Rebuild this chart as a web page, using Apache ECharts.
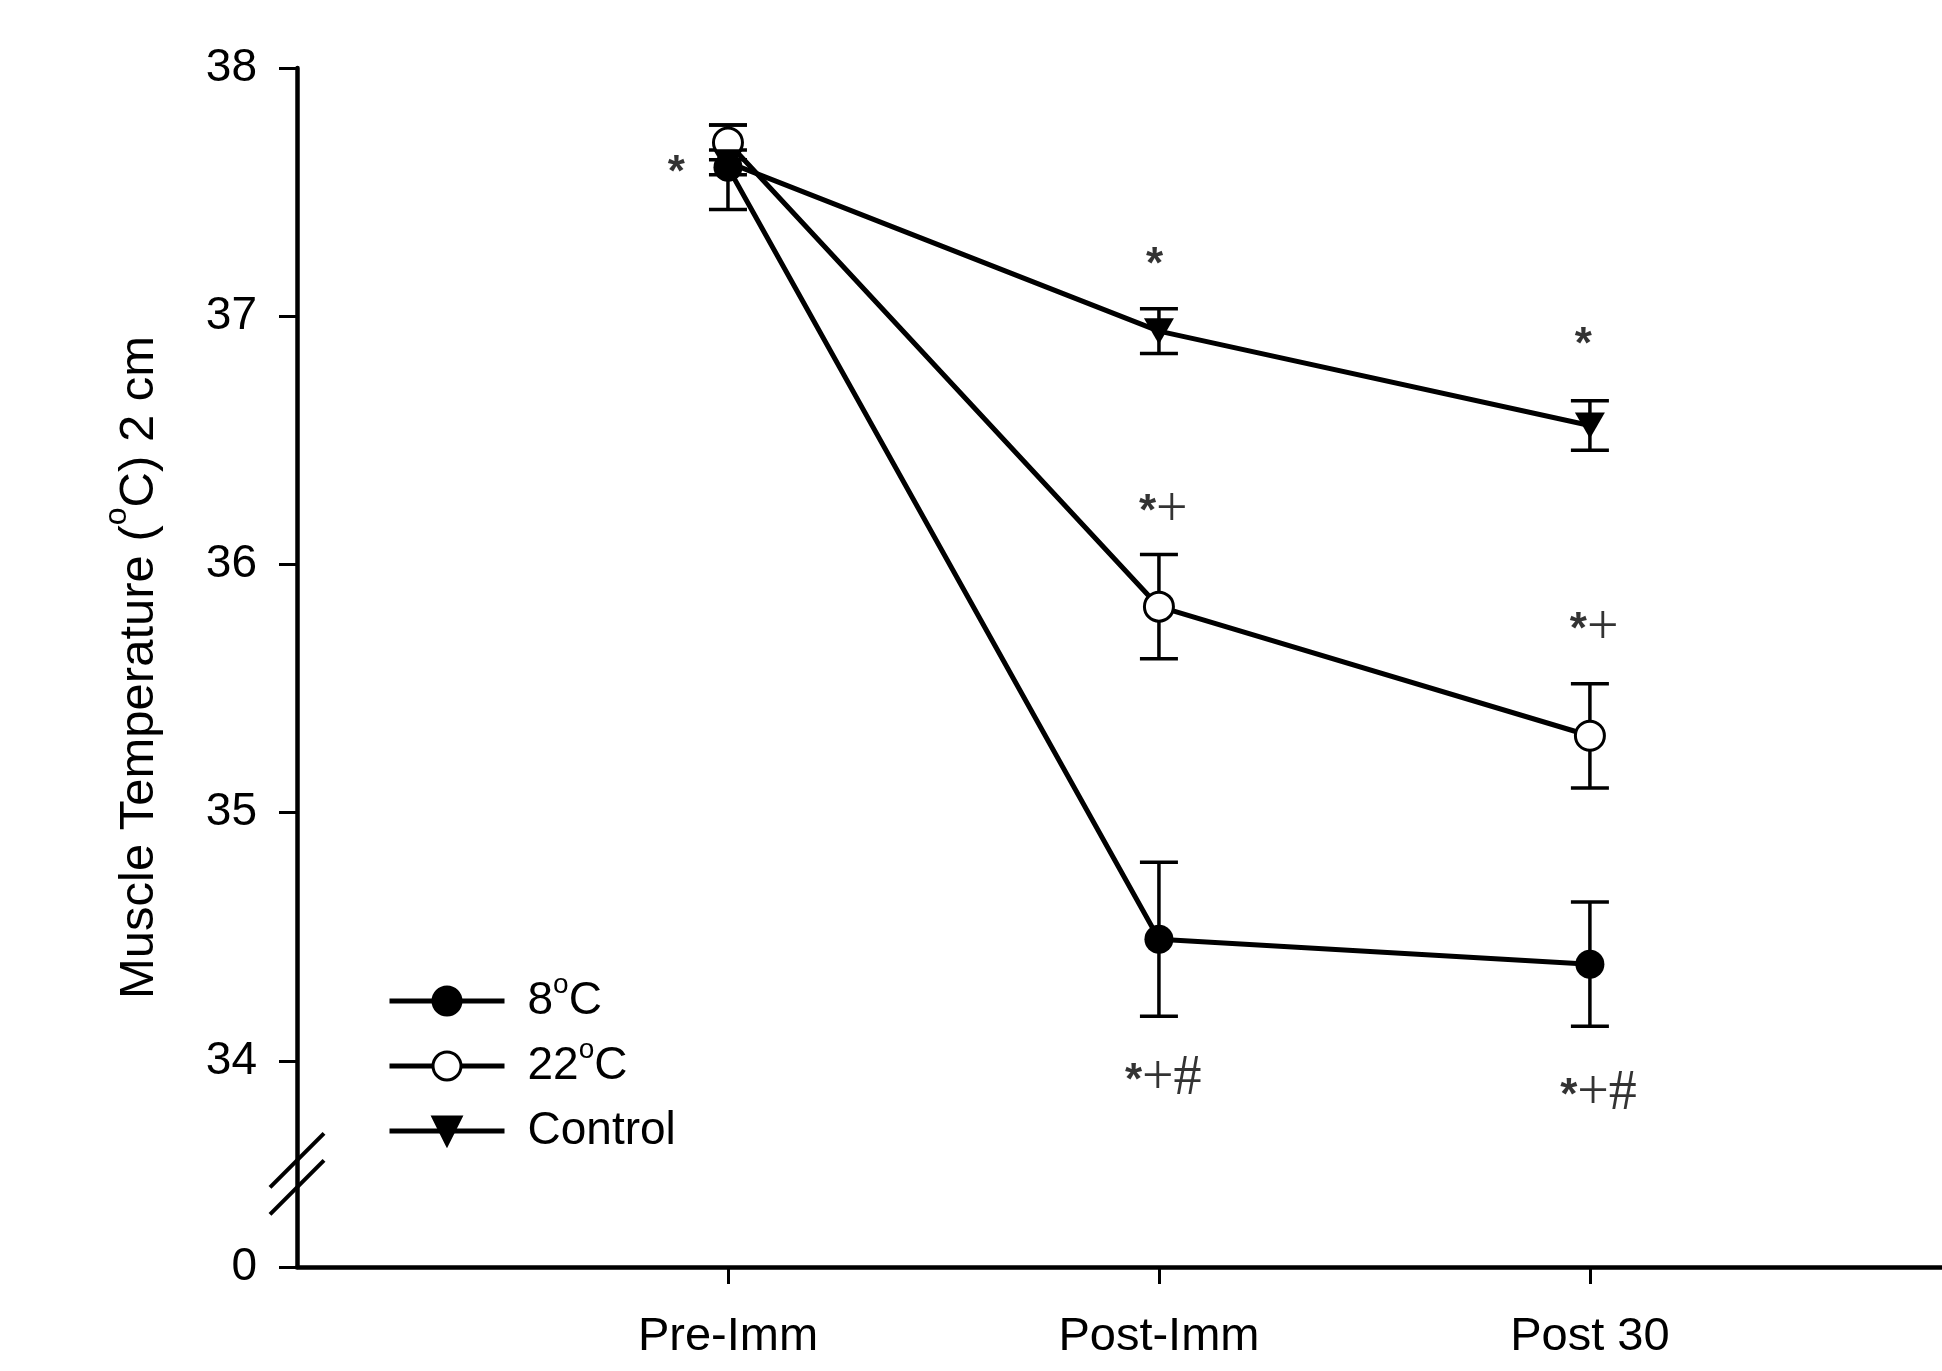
<!DOCTYPE html>
<html><head><meta charset="utf-8">
<script src="https://cdn.jsdelivr.net/npm/echarts@6/dist/echarts.min.js"></script>
<style>html,body{margin:0;padding:0;background:#fff}#c{width:1942px;height:1371px}</style>
</head><body><div id="c"></div>
<script>
// ---- data ----
const categories = ['Pre-Imm', 'Post-Imm', 'Post 30'];
const seriesNames = ['8°C', '22°C', 'Control'];
const mean8 = [37.60, 34.49, 34.39];
const sem8 = [0.17, 0.31, 0.25];
const mean22 = [37.70, 35.83, 35.31];
const sem22 = [0.07, 0.21, 0.21];
const meanCtrl = [37.62, 36.94, 36.56];
const semCtrl = [0.05, 0.09, 0.10];
const yTickValues = [34, 35, 36, 37, 38];
const annotationText = ['*', '*', '*+', '*+#', '*', '*+', '*+#'];
const annotationX = [-0.12, 0.99, 1.01, 1.01, 1.985, 2.01, 2.02];
const annotationY = [37.58, 37.21, 36.215, 33.925, 36.89, 35.74, 33.865];

// ---- axis layout (broken axis: "0" drawn below the break) ----
const ZERO_POS = 33.17;
const BREAK_POS = 33.545;
const FONT = 'Liberation Sans, Arial, sans-serif';
const LEGEND_TOPS = [971, 1036, 1106];

const chart = echarts.init(document.getElementById('c'));

function errData(means, sems) {
  return means.map((m, i) => [i, m - sems[i], m + sems[i]]);
}
function errSeries(means, sems) {
  return {
    type: 'custom', silent: true, z: 1,
    renderItem: (params, api) => {
      const x = api.value(0), lo = api.value(1), hi = api.value(2);
      const a = api.coord([x, hi]), b = api.coord([x, lo]);
      const w = 19, st = { stroke: '#000', lineWidth: 3.5 };
      return { type: 'group', children: [
        { type: 'line', shape: { x1: a[0], y1: a[1], x2: b[0], y2: b[1] }, style: st },
        { type: 'line', shape: { x1: a[0] - w, y1: a[1], x2: a[0] + w, y2: a[1] }, style: st },
        { type: 'line', shape: { x1: b[0] - w, y1: b[1], x2: b[0] + w, y2: b[1] }, style: st }
      ]};
    },
    data: errData(means, sems)
  };
}
function lineSeries(name, means, symbol, itemStyle, extra) {
  return Object.assign({
    name, type: 'line', z: 3, symbol, symbolSize: 29,
    data: means.map((v, i) => [i, v]),
    lineStyle: { color: '#000', width: 5 },
    itemStyle
  }, extra || {});
}
function legendRow(name, top) {
  return {
    orient: 'vertical', left: 387, top, padding: 0,
    itemWidth: 115, itemHeight: 35, itemGap: 0,
    data: [name],
    formatter: n => n.replace('°', '{sup|o}'),
    lineStyle: { width: 5, color: '#000' },
    itemStyle: { borderWidth: 3, borderColor: '#000' },
    textStyle: {
      fontFamily: FONT, fontSize: 46, color: '#000', lineHeight: 50, padding: [0, 0, 0, 18],
      rich: { sup: { fontFamily: FONT, fontSize: 28, color: '#000', lineHeight: 18, padding: [0, 0, 32, 0] } }
    }
  };
}

const annData = annotationText.map((t, i) => ({ value: [annotationX[i], annotationY[i]], name: t }));

const option = {
  animation: false,
  backgroundColor: '#fff',
  grid: { left: 297, right: 0, top: 68, bottom: 104, containLabel: false, outerBoundsMode: 'none' },
  xAxis: {
    type: 'value', min: -1, max: 2.817,
    splitLine: { show: false },
    axisLine: { onZero: false, lineStyle: { color: '#000', width: 4.5 } },
    axisTick: { customValues: [0, 1, 2], length: 17, lineStyle: { color: '#000', width: 3 } },
    axisLabel: {
      customValues: [0, 1, 2], margin: 47,
      formatter: v => categories[Math.round(v)] || '',
      fontFamily: FONT, fontSize: 47, color: '#000'
    }
  },
  yAxis: {
    type: 'value', min: ZERO_POS, max: 38,
    splitLine: { show: false },
    axisLine: { onZero: false, lineStyle: { color: '#000', width: 4.5 } },
    axisTick: { customValues: [ZERO_POS].concat(yTickValues), length: 18, lineStyle: { color: '#000', width: 3 } },
    axisLabel: {
      customValues: [ZERO_POS].concat(yTickValues), margin: 40,
      formatter: v => Math.abs(v - ZERO_POS) < 1e-6 ? '0' : String(v),
      fontFamily: FONT, fontSize: 46, color: '#000'
    },
    name: 'Muscle Temperature ({sup|o}C) 2 cm',
    nameLocation: 'middle', nameRotate: 90, nameGap: 120,
    nameTextStyle: {
      fontFamily: FONT, fontSize: 49, color: '#000',
      rich: { sup: { fontFamily: FONT, fontSize: 32, color: '#000', padding: [0, 0, 44, 0] } }
    }
  },
  legend: seriesNames.map((n, i) => legendRow(n, LEGEND_TOPS[i])),
  series: [
    errSeries(mean8, sem8),
    errSeries(mean22, sem22),
    errSeries(meanCtrl, semCtrl),
    lineSeries(seriesNames[0], mean8, 'circle', { color: '#000', borderColor: '#000', borderWidth: 0 }),
    lineSeries(seriesNames[1], mean22, 'circle', { color: '#fff', borderColor: '#000', borderWidth: 3 }),
    lineSeries(seriesNames[2], meanCtrl, 'triangle', { color: '#000', borderColor: '#000', borderWidth: 0 },
      { symbolRotate: 180, symbolSize: [30, 26] }),
    {
      type: 'scatter', symbolSize: 0, silent: true, z: 4,
      data: annData,
      label: {
        show: true, position: 'inside',
        formatter: p => p.name.split('').map(ch => ch === '*' ? '{s|*}' : '{t|' + ch + '}').join(''),
        rich: {
          s: { fontFamily: 'Liberation Sans, Arial', fontWeight: 'bold', fontSize: 44, color: '#000', padding: [4, 0, 0, 0] },
          t: { fontFamily: 'Liberation Serif, Times New Roman, serif', fontSize: 56, color: '#000' }
        }
      }
    }
  ]
};
chart.setOption(option);

// axis break marks "//"
const ax = chart.convertToPixel({ xAxisIndex: 0 }, -1);
const by = chart.convertToPixel({ yAxisIndex: 0 }, BREAK_POS);
const slash = (dy) => ({
  type: 'line', z: 100,
  shape: { x1: ax - 27, y1: by + dy + 27, x2: ax + 27, y2: by + dy - 27 },
  style: { stroke: '#000', lineWidth: 4 }
});
chart.setOption({ graphic: [slash(-13.5), slash(13.5)] });
</script></body></html>
